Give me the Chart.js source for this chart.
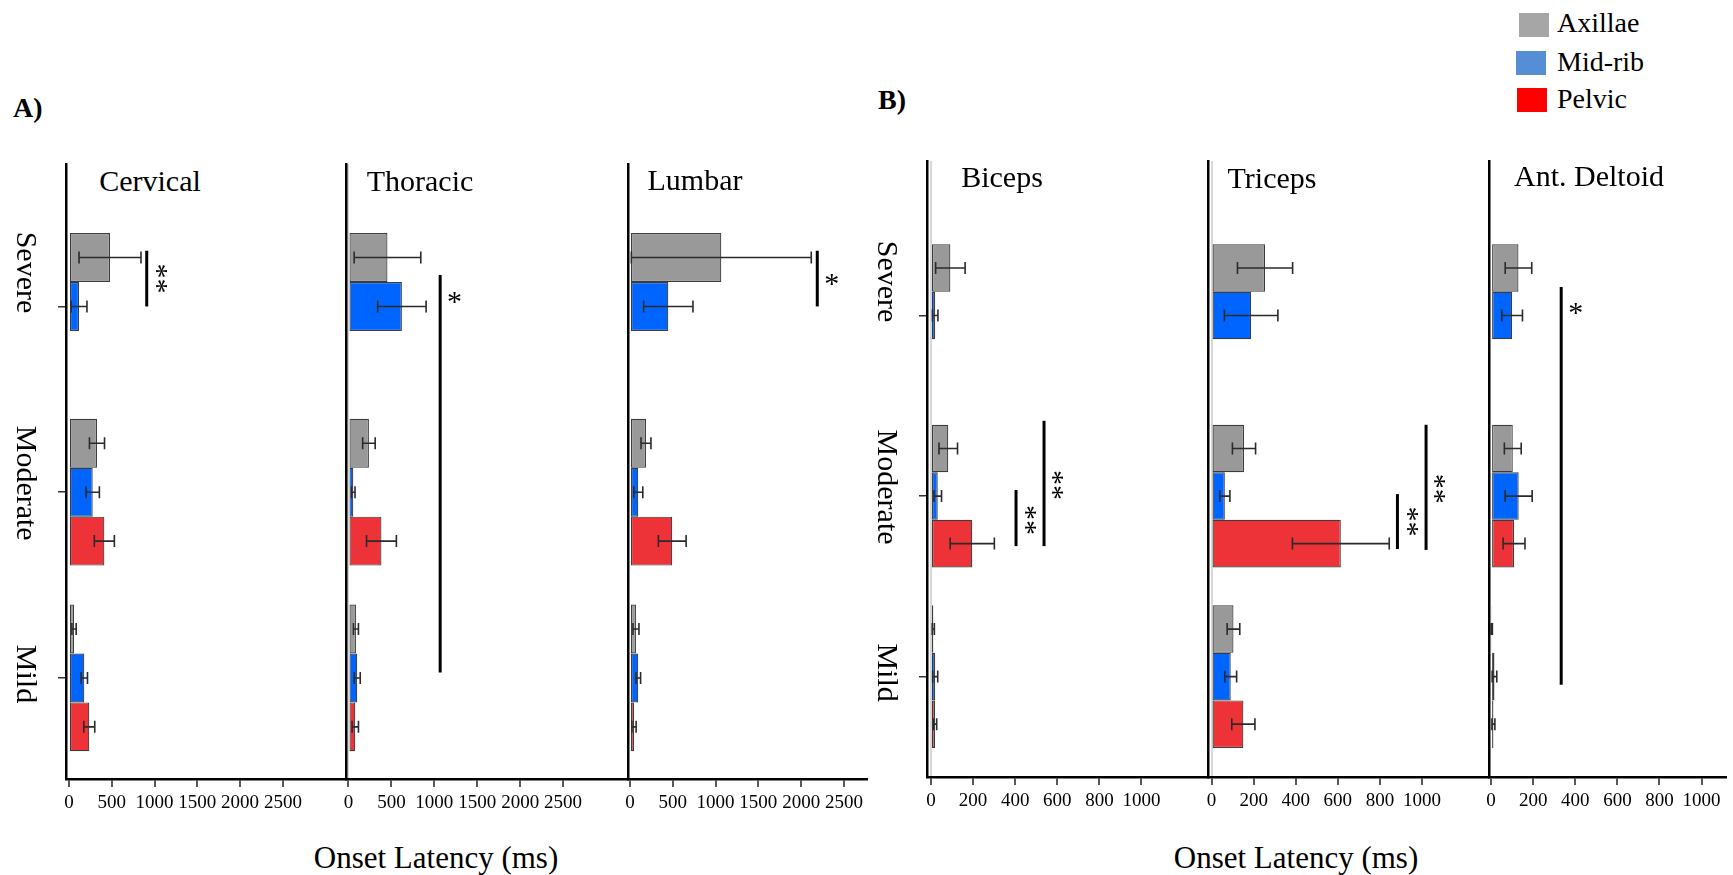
<!DOCTYPE html>
<html>
<head>
<meta charset="utf-8">
<title>Onset latency by severity</title>
<script src="https://cdn.jsdelivr.net/npm/chart.js@4.4.1/dist/chart.umd.min.js"></script>
<style>
  body { margin: 0; background: #fff; }
  #figure { position: relative; width: 1733px; height: 875px; overflow: hidden; background: #fff;
            font-family: "Liberation Serif", "Times New Roman", serif; color: #000; }
  #figure canvas { position: absolute; }
  .txt { position: absolute; line-height: 1; white-space: nowrap; }
  .title { font-size: 30px; width: 240px; text-align: center; }
  .panel-tag { font-size: 28px; font-weight: bold; }
  .axis-title { font-size: 31px; width: 400px; text-align: center; }
  .legend-box { position: absolute; width: 30px; height: 24px; }
  .legend-text { font-size: 28px; }
</style>
</head>
<body>
<div id="figure">
  <div class="txt panel-tag" style="left:13px; top:94px;">A)</div>
  <div class="txt panel-tag" style="left:878px; top:86px;">B)</div>
  <div class="txt axis-title" style="left:236px; top:842px;">Onset Latency (ms)</div>
  <div class="txt axis-title" style="left:1096px; top:842px;">Onset Latency (ms)</div>

  <div class="legend-box" style="left:1519px; top:13px; background:#a6a6a6;"></div>
  <div class="txt legend-text" style="left:1557px; top:9px;">Axillae</div>
  <div class="legend-box" style="left:1516px; top:51px; background:#558ed5;"></div>
  <div class="txt legend-text" style="left:1557px; top:48px;">Mid-rib</div>
  <div class="legend-box" style="left:1517px; top:88px; background:#ff0000;"></div>
  <div class="txt legend-text" style="left:1557px; top:85px;">Pelvic</div>
</div>
<script>
// categories and series
const severities = ['Severe', 'Moderate', 'Mild'];
const seriesNames = ['Axillae', 'Mid-rib', 'Pelvic'];
const ticksA = [0, 500, 1000, 1500, 2000, 2500];
const ticksB = [0, 200, 400, 600, 800, 1000];

// mean onset latency (ms) per series [Axillae, Mid-rib, Pelvic], each over Severe/Moderate/Mild
const cervicalMeans  = [[480, 328, 60], [118, 278, 180], [null, 414, 238]];
const cervicalErrors = [[362, 88, 25], [93, 78, 37], [null, 117, 64]];
const thoracicMeans  = [[454, 238, 87], [622, 56, 102], [null, 384, 79]];
const thoracicErrors = [[388, 73, 29], [282, 20, 35], [null, 174, 37]];
const lumbarMeans    = [[1067, 187, 70], [448, 97, 97], [null, 494, 47]];
const lumbarErrors   = [[1051, 58, 35], [288, 53, 27], [null, 162, 25]];
const bicepsMeans    = [[92, 82, 11], [20, 32, 20], [null, 196, 19]];
const bicepsErrors   = [[70, 44, 5], [13, 18, 12], [null, 105, 8]];
const tricepsMeans   = [[254, 154, 104], [188, 63, 91], [null, 614, 151]];
const tricepsErrors  = [[131, 55, 30], [127, 24, 28], [null, 230, 55]];
const deltoidMeans   = [[130, 103, 3], [100, 131, 16], [null, 109, 11]];
const deltoidErrors  = [[63, 40, 3], [49, 64, 11], [null, 52, 7]];

// significance bars: [latency, from category, to category] and marks: [text, latency, category, rotated]
const cervicalSig  = [[909, -0.30, 0.0]];
const cervicalMark = [['**', 1088, -0.15, true]];
const thoracicSig  = [[1068, -0.17, 1.97]];
const thoracicMark = [['*', 1234, -0.05, false]];
const lumbarSig    = [[2188, -0.30, 0.0]];
const lumbarMark   = [['*', 2356, -0.15, false]];
const bicepsSig    = [[404, 0.966, 1.277], [537, 0.583, 1.277]];
const bicepsMark   = [['**', 474, 1.133, true], ['**', 605, 0.938, true]];
const tricepsSig   = [[883, 0.989, 1.293], [1019, 0.605, 1.298]];
const tricepsMark  = [['**', 958, 1.141, true], ['**', 1085, 0.96, true]];
const deltoidSig   = [[333, -0.158, 2.045]];
const deltoidMark  = [['*', 402, -0.04, false]];

const barColors = ['#999999', '#0064ff', '#ee3338'];
const labelShift = [-34, -9, -4];

const panels = [
  { title: 'Cervical', titleX: 150, titleTop: 166, means: cervicalMeans, errors: cervicalErrors, sig: cervicalSig, marks: cervicalMark,
    ticks: ticksA, xMin: -34, xMax: 3237, axisX: 66, right: 346, top: 164, bottom: 779, yMin: -0.767, yMax: 2.544, first: true, zeroLine: false },
  { title: 'Thoracic', titleX: 420, titleTop: 166, means: thoracicMeans, errors: thoracicErrors, sig: thoracicSig, marks: thoracicMark,
    ticks: ticksA, xMin: -29, xMax: 3256, axisX: 346, right: 628, top: 164, bottom: 779, yMin: -0.767, yMax: 2.544, first: false, zeroLine: true },
  { title: 'Lumbar', titleX: 695, titleTop: 165, means: lumbarMeans, errors: lumbarErrors, sig: lumbarSig, marks: lumbarMark,
    ticks: ticksA, xMin: -23, xMax: 2769, axisX: 628, right: 867, top: 164, bottom: 779, yMin: -0.767, yMax: 2.544, first: false, zeroLine: false },
  { title: 'Biceps', titleX: 1002, titleTop: 162, means: bicepsMeans, errors: bicepsErrors, sig: bicepsSig, marks: bicepsMark,
    ticks: ticksB, xMin: -19, xMax: 1316, axisX: 927, right: 1208, top: 161, bottom: 777, yMin: -0.856, yMax: 2.556, first: true, zeroLine: true },
  { title: 'Triceps', titleX: 1272, titleTop: 163, means: tricepsMeans, errors: tricepsErrors, sig: tricepsSig, marks: tricepsMark,
    ticks: ticksB, xMin: -17, xMax: 1318, axisX: 1208, right: 1489, top: 161, bottom: 777, yMin: -0.856, yMax: 2.556, first: false, zeroLine: true },
  { title: 'Ant. Deltoid', titleX: 1589, titleTop: 161, means: deltoidMeans, errors: deltoidErrors, sig: deltoidSig, marks: deltoidMark,
    ticks: ticksB, xMin: -10, xMax: 1116, axisX: 1489, right: 1726, top: 161, bottom: 777, yMin: -0.856, yMax: 2.556, first: false, zeroLine: false }
];

const serif = '"Liberation Serif", "Times New Roman", serif';

// error bars, severity labels and significance marks
function makeAnnotations(p) {
  return {
    id: 'annotations',
    afterDatasetsDraw(chart) {
      const { ctx, chartArea, scales: { x, y } } = chart;
      ctx.save();

      ctx.strokeStyle = '#2b2b2b';
      ctx.lineWidth = 1.6;
      chart.data.datasets.forEach((ds, d) => {
        chart.getDatasetMeta(d).data.forEach((bar, i) => {
          const m = p.means[d][i];
          const e = p.errors[d][i];
          if (m == null) return;
          const x0 = x.getPixelForValue(m - e);
          const x1 = x.getPixelForValue(m + e);
          const cy = bar.y;
          ctx.beginPath();
          ctx.moveTo(x0, cy); ctx.lineTo(x1, cy);
          ctx.moveTo(x0, cy - 6); ctx.lineTo(x0, cy + 6);
          ctx.moveTo(x1, cy - 6); ctx.lineTo(x1, cy + 6);
          ctx.stroke();
        });
      });

      ctx.fillStyle = '#000';
      if (p.first) {
        ctx.font = '30px ' + serif;
        ctx.textAlign = 'center';
        ctx.textBaseline = 'middle';
        severities.forEach((name, i) => {
          ctx.save();
          ctx.translate(chartArea.left - 41, y.getPixelForValue(i) + labelShift[i]);
          ctx.rotate(Math.PI / 2);
          ctx.fillText(name, 0, 0);
          ctx.restore();
        });
      }

      ctx.strokeStyle = '#000';
      ctx.lineWidth = 3;
      p.sig.forEach(([v, a, b]) => {
        const px = x.getPixelForValue(v);
        ctx.beginPath();
        ctx.moveTo(px, y.getPixelForValue(a));
        ctx.lineTo(px, y.getPixelForValue(b));
        ctx.stroke();
      });

      ctx.font = '30px ' + serif;
      ctx.textAlign = 'center';
      ctx.textBaseline = 'alphabetic';
      p.marks.forEach(([text, v, c, rotated]) => {
        ctx.save();
        ctx.translate(x.getPixelForValue(v), y.getPixelForValue(c));
        if (rotated) ctx.rotate(Math.PI / 2);
        ctx.fillText(text, 0, 0.47 * 30);
        ctx.restore();
      });

      ctx.restore();
    }
  };
}

const fig = document.getElementById('figure');

panels.forEach(p => {
  const title = document.createElement('div');
  title.className = 'txt title';
  title.textContent = p.title;
  title.style.left = (p.titleX - 120) + 'px';
  title.style.top = p.titleTop + 'px';
  fig.appendChild(title);

  const canvas = document.createElement('canvas');
  const w = p.right - p.axisX + 90;
  const h = 740;
  canvas.width = w;
  canvas.height = h;
  canvas.style.left = (p.axisX - 70) + 'px';
  canvas.style.top = '100px';
  canvas.style.width = w + 'px';
  canvas.style.height = h + 'px';
  fig.appendChild(canvas);

  new Chart(canvas, {
    type: 'bar',
    data: {
      datasets: seriesNames.map((name, s) => ({
        label: name,
        data: p.means[s].map((v, i) => ({ x: v, y: i })),
        backgroundColor: barColors[s],
        borderColor: '#3c3c3c',
        borderWidth: 1.2,
        borderSkipped: false,
        categoryPercentage: 0.79,
        barPercentage: 1
      }))
    },
    options: {
      indexAxis: 'y',
      responsive: false,
      animation: false,
      devicePixelRatio: 1,
      layout: { padding: { left: 60, right: 20, top: p.top - 100, bottom: 0 } },
      plugins: { legend: { display: false }, tooltip: { enabled: false } },
      scales: {
        x: {
          type: 'linear',
          min: p.xMin,
          max: p.xMax,
          afterBuildTicks: s => { s.ticks = p.ticks.map(v => ({ value: v })); },
          afterFit: s => { s.height = 840 - p.bottom; },
          border: { display: true, color: '#000', width: 2.5 },
          grid: {
            drawOnChartArea: p.zeroLine,
            color: c => (c.tick && c.tick.value === 0) ? '#d8d8d8' : 'rgba(0,0,0,0)',
            lineWidth: 2,
            tickColor: '#222',
            tickWidth: 1.5,
            tickLength: 8
          },
          ticks: {
            autoSkip: false,
            maxRotation: 0,
            padding: 5,
            color: '#000',
            font: { family: serif, size: 19 },
            callback: v => String(v)
          }
        },
        y: {
          type: 'linear',
          reverse: true,
          offset: false,
          min: p.yMin,
          max: p.yMax,
          afterBuildTicks: s => { s.ticks = severities.map((_, i) => ({ value: i })); },
          afterFit: s => { s.width = 10; },
          border: { display: true, color: '#000', width: 2.5 },
          grid: { display: p.first, offset: false, drawOnChartArea: false, color: '#333', lineWidth: 1.5, tickLength: 8 },
          ticks: { display: false }
        }
      }
    },
    plugins: [makeAnnotations(p)]
  });
});
</script>
</body>
</html>
